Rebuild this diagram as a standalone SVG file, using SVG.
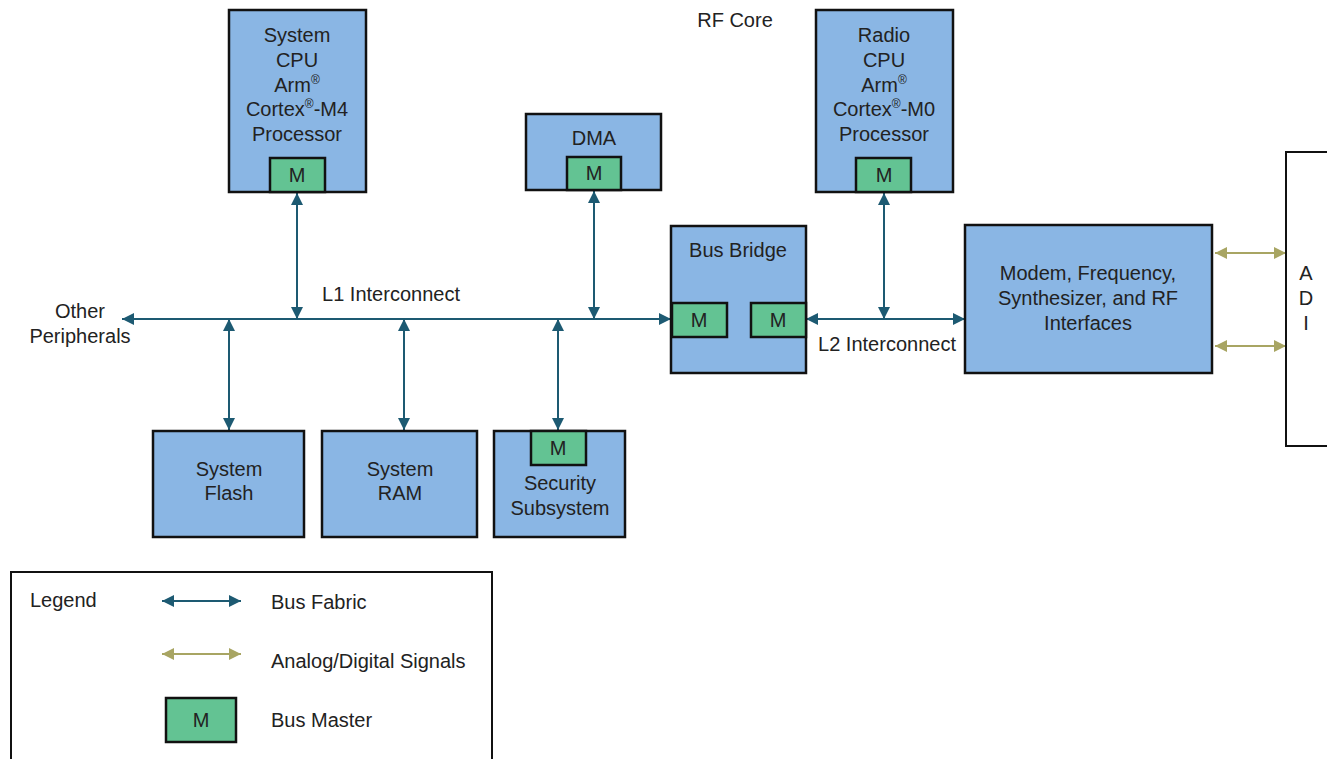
<svg xmlns="http://www.w3.org/2000/svg" width="1327" height="759" viewBox="0 0 1327 759">
<defs>
<marker id="ab" markerUnits="userSpaceOnUse" markerWidth="13" markerHeight="13" refX="12" refY="6" orient="auto-start-reverse"><path d="M0,0 L12,6 L0,12 z" fill="#1d5a72"/></marker>
<marker id="ao" markerUnits="userSpaceOnUse" markerWidth="13" markerHeight="13" refX="12" refY="6" orient="auto-start-reverse"><path d="M0,0 L12,6 L0,12 z" fill="#a8a563"/></marker>
<style>
.b{fill:#8ab6e4;stroke:#111;stroke-width:2.5}
.m{fill:#63c393;stroke:#111;stroke-width:2.5}
.w{fill:#fff;stroke:#111;stroke-width:2}
text{font-family:"Liberation Sans",Arial,sans-serif;font-size:20px;fill:#222;text-anchor:middle}
.l{text-anchor:start}
.sup{font-size:12px}
.bus{stroke:#1d5a72;stroke-width:2;fill:none;marker-start:url(#ab);marker-end:url(#ab)}
.ana{stroke:#a8a563;stroke-width:2;fill:none;marker-start:url(#ao);marker-end:url(#ao)}
</style>
</defs>
<rect width="1327" height="759" fill="#fff"/>
<g id="connectors">
<line class="bus" x1="122" y1="319" x2="671" y2="319"/>
<line class="bus" x1="806" y1="319" x2="965" y2="319"/>
<line class="bus" x1="297" y1="193" x2="297" y2="319"/>
<line class="bus" x1="594" y1="191" x2="594" y2="319"/>
<line class="bus" x1="884" y1="193" x2="884" y2="319"/>
<line class="bus" x1="229" y1="319" x2="229" y2="430"/>
<line class="bus" x1="404" y1="319" x2="404" y2="430"/>
<line class="bus" x1="558" y1="319" x2="558" y2="430"/>
<line class="ana" x1="1215" y1="253" x2="1286" y2="253"/>
<line class="ana" x1="1215" y1="346" x2="1286" y2="346"/>
</g>
<g id="labels">
<text x="735" y="27">RF Core</text>
<text x="391" y="301">L1 Interconnect</text>
<text x="887" y="351">L2 Interconnect</text>
<text x="80" y="318">Other</text>
<text x="80" y="343">Peripherals</text>
</g>
<g id="system-cpu">
<rect class="b" x="229" y="10" width="137" height="182"/>
<text x="297" y="42">System</text>
<text x="297" y="67">CPU</text>
<text x="297" y="92">Arm<tspan class="sup" dy="-8">®</tspan></text>
<text x="297" y="116">Cortex<tspan class="sup" dy="-8">®</tspan><tspan dy="8">-M4</tspan></text>
<text x="297" y="141">Processor</text>
<rect class="m" x="270" y="158" width="55" height="34"/>
<text x="297" y="182">M</text>
</g>
<g id="dma">
<rect class="b" x="526" y="114" width="135" height="76"/>
<text x="594" y="145">DMA</text>
<rect class="m" x="567" y="157" width="54" height="33"/>
<text x="594" y="180">M</text>
</g>
<g id="radio-cpu">
<rect class="b" x="816" y="10" width="137" height="182"/>
<text x="884" y="42">Radio</text>
<text x="884" y="67">CPU</text>
<text x="884" y="92">Arm<tspan class="sup" dy="-8">®</tspan></text>
<text x="884" y="116">Cortex<tspan class="sup" dy="-8">®</tspan><tspan dy="8">-M0</tspan></text>
<text x="884" y="141">Processor</text>
<rect class="m" x="856" y="158" width="55" height="34"/>
<text x="884" y="182">M</text>
</g>
<g id="bus-bridge">
<rect class="b" x="671" y="226" width="135" height="147"/>
<text x="738" y="257">Bus Bridge</text>
<rect class="m" x="672" y="303" width="55" height="34"/>
<text x="699" y="327">M</text>
<rect class="m" x="751" y="303" width="55" height="34"/>
<text x="778" y="327">M</text>
</g>
<g id="modem">
<rect class="b" x="965" y="225" width="247" height="148"/>
<text x="1088" y="280">Modem, Frequency,</text>
<text x="1088" y="305">Synthesizer, and RF</text>
<text x="1088" y="330">Interfaces</text>
</g>
<g id="adi">
<rect class="w" x="1286" y="152" width="42" height="294"/>
<text x="1306" y="280">A</text>
<text x="1306" y="305">D</text>
<text x="1306" y="330">I</text>
</g>
<g id="system-flash">
<rect class="b" x="153" y="431" width="151" height="106"/>
<text x="229" y="476">System</text>
<text x="229" y="500">Flash</text>
</g>
<g id="system-ram">
<rect class="b" x="322" y="431" width="155" height="106"/>
<text x="400" y="476">System</text>
<text x="400" y="500">RAM</text>
</g>
<g id="security">
<rect class="b" x="494" y="431" width="131" height="106"/>
<rect class="m" x="531" y="431" width="55" height="34"/>
<text x="558" y="455">M</text>
<text x="560" y="490">Security</text>
<text x="560" y="515">Subsystem</text>
</g>
<g id="legend">
<rect class="w" x="11" y="572" width="481" height="195"/>
<text class="l" x="30" y="607">Legend</text>
<line class="bus" x1="162" y1="601" x2="241" y2="601"/>
<text class="l" x="271" y="609">Bus Fabric</text>
<line class="ana" x1="162" y1="654" x2="241" y2="654"/>
<text class="l" x="271" y="668">Analog/Digital Signals</text>
<rect class="m" x="166" y="698" width="70" height="44"/>
<text x="201" y="727">M</text>
<text class="l" x="271" y="727">Bus Master</text>
</g>
</svg>
